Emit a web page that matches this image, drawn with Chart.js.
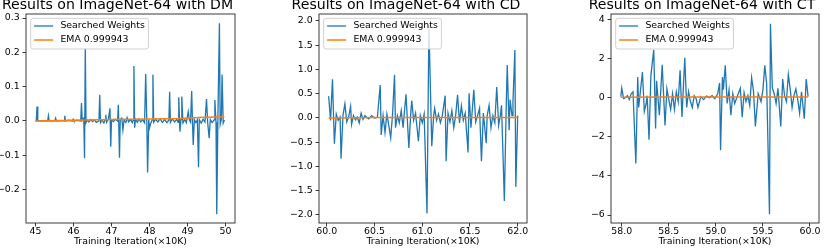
<!DOCTYPE html>
<html>
<head>
<meta charset="utf-8">
<script src="https://cdn.jsdelivr.net/npm/chart.js@4.4.1/dist/chart.umd.min.js"></script>
<style>
html, body { margin: 0; padding: 0; background: #fff; }
body { width: 830px; height: 248px; position: relative; overflow: hidden; }
canvas { position: absolute; top: -2px; }
</style>
</head>
<body>
<canvas id="dm" width="261" height="250" style="left:0px"></canvas>
<canvas id="cd" width="276" height="250" style="left:285px"></canvas>
<canvas id="ct" width="260" height="250" style="left:585px"></canvas>
<script>
// ---- data ----
const seriesLabels = ['Searched Weights', 'EMA 0.999943'];
const xAxisLabel = 'Training Iteration(\u00d710K)';

// DM panel
const dmIter = [45.00, 45.02, 45.04, 45.06, 45.10, 45.20, 45.32, 45.34, 45.36, 45.45, 45.51, 45.53, 45.55, 45.65, 45.75, 45.77, 45.79, 45.88, 45.97, 45.99,
  46.01, 46.10, 46.19, 46.21, 46.23, 46.27, 46.29, 46.31, 46.33, 46.36, 46.40, 46.45, 46.50, 46.55, 46.60, 46.67, 46.69, 46.71, 46.75, 46.80,
  46.83, 46.85, 46.87, 46.92, 46.96, 46.98, 47.00, 47.05, 47.10, 47.16, 47.18, 47.21, 47.23, 47.27, 47.30, 47.33, 47.38, 47.41, 47.45, 47.50,
  47.55, 47.57, 47.59, 47.61, 47.63, 47.68, 47.72, 47.77, 47.82, 47.87, 47.90, 47.93, 47.95, 47.98, 48.00, 48.03, 48.07, 48.09, 48.11, 48.16,
  48.22, 48.28, 48.34, 48.40, 48.46, 48.51, 48.53, 48.55, 48.60, 48.66, 48.72, 48.75, 48.77, 48.80, 48.83, 48.85, 48.88, 48.93, 48.97, 49.02,
  49.05, 49.08, 49.11, 49.13, 49.15, 49.18, 49.22, 49.26, 49.29, 49.31, 49.36, 49.41, 49.46, 49.50, 49.53, 49.57, 49.60, 49.65, 49.70, 49.72,
  49.75, 49.77, 49.80, 49.84, 49.86, 49.89, 49.91, 49.94, 49.97];
const dmWeights = [0.000, 0.000, 0.042, 0.000, 0.000, 0.001, 0.000, 0.015, 0.000, 0.001, 0.000, 0.008, 0.000, 0.001, 0.000, 0.015, 0.000, 0.002, 0.000, 0.005,
  0.000, 0.002, 0.000, 0.052, 0.002, 0.008, -0.109, 0.212, -0.004, 0.003, -0.003, 0.004, -0.002, 0.003, -0.004, 0.000, 0.076, -0.005, 0.003, -0.006,
  0.004, 0.018, -0.004, 0.006, 0.037, -0.075, 0.003, -0.002, 0.005, 0.000, 0.047, -0.107, 0.004, 0.008, -0.026, 0.002, -0.004, 0.010, -0.003, 0.004,
  -0.005, 0.002, 0.160, -0.020, 0.005, -0.004, 0.006, -0.003, 0.004, -0.005, 0.137, -0.006, -0.150, 0.004, -0.020, -0.008, 0.003, 0.135, -0.004, 0.005,
  -0.003, 0.006, -0.004, 0.004, -0.005, 0.003, 0.085, -0.004, 0.006, -0.003, 0.005, -0.004, 0.069, -0.031, 0.005, 0.071, -0.006, 0.004, -0.005, 0.027,
  0.003, -0.004, 0.087, 0.002, -0.070, 0.004, -0.005, 0.003, -0.135, 0.004, -0.006, 0.005, -0.003, 0.064, -0.004, -0.050, 0.004, -0.005, 0.003, 0.061,
  -0.004, -0.272, 0.005, 0.285, -0.010, 0.004, 0.135, -0.006, 0.003];
const dmEmaIter = [45.00, 46.00, 47.00, 48.00, 48.80, 49.30, 49.97];
const dmEma = [0.000, 0.002, 0.004, 0.006, 0.007, 0.010, 0.012];
const dmXTicks = [45, 46, 47, 48, 49, 50];
const dmYTicks = [-0.2, -0.1, 0.0, 0.1, 0.2, 0.3];

// CD panel
const cdIter = [60.02, 60.04, 60.06, 60.08, 60.10, 60.12, 60.14, 60.15, 60.17, 60.19, 60.21, 60.23, 60.25, 60.26, 60.28, 60.30, 60.32, 60.34, 60.36, 60.38,
  60.40, 60.42, 60.44, 60.47, 60.50, 60.53, 60.56, 60.57, 60.59, 60.61, 60.63, 60.65, 60.67, 60.69, 60.71, 60.72, 60.74, 60.76, 60.78, 60.80,
  60.81, 60.83, 60.86, 60.88, 60.89, 60.91, 60.93, 60.96, 60.98, 61.00, 61.02, 61.05, 61.07, 61.10, 61.12, 61.13, 61.15, 61.17, 61.19, 61.21,
  61.24, 61.25, 61.27, 61.29, 61.31, 61.33, 61.35, 61.37, 61.39, 61.41, 61.43, 61.45, 61.48, 61.49, 61.51, 61.54, 61.56, 61.58, 61.60, 61.62,
  61.64, 61.67, 61.68, 61.70, 61.72, 61.74, 61.76, 61.78, 61.80, 61.82, 61.83, 61.86, 61.88, 61.89, 61.91, 61.92, 61.94, 61.95, 61.97, 61.98, 62.00];
const cdWeights = [0.45, -0.05, 0.80, -0.53, 0.08, -0.05, 0.02, -0.84, 0.05, 0.29, -0.08, 0.03, 0.24, -0.13, 0.05, -0.04, 0.02, -0.10, 0.10, -0.03,
  0.05, 0.01, -0.02, 0.05, 0.00, 0.01, 0.68, -0.35, 0.05, -0.30, 0.08, -0.15, -0.41, 0.10, 0.89, -0.20, 0.05, -0.10, 0.15, -0.20,
  0.05, 0.49, -0.62, 0.10, 0.36, -0.05, 0.10, -0.48, 0.05, -0.10, 0.08, -1.97, 1.90, -0.58, 0.06, 0.20, -0.05, 0.08, -0.10, 0.05,
  0.46, -0.89, 0.10, -0.08, 0.15, -0.20, 0.05, 0.48, -0.10, 0.25, -0.05, 0.10, -0.71, 0.51, -0.20, 0.58, -0.08, 0.05, 0.20, -0.89,
  0.10, -0.52, 0.05, 0.26, -0.20, 0.05, -0.10, 0.64, -0.15, 0.08, 0.26, -1.71, 0.30, 1.09, -0.25, 0.38, 0.05, 0.33, 1.40, -1.42, 0.05];
const cdEmaIter = [60.02, 60.50, 61.00, 61.50, 62.00];
const cdEma = [0.00, 0.01, 0.01, 0.01, 0.01];
const cdXTicks = [60.0, 60.5, 61.0, 61.5, 62.0];
const cdYTicks = [-2.0, -1.5, -1.0, -0.5, 0.0, 0.5, 1.0, 1.5, 2.0];

// CT panel
const ctIter = [57.99, 58.00, 58.02, 58.04, 58.06, 58.08, 58.10, 58.12, 58.15, 58.17, 58.18, 58.20, 58.22, 58.24, 58.26, 58.27, 58.29, 58.31, 58.34, 58.36,
  58.37, 58.40, 58.43, 58.46, 58.48, 58.50, 58.52, 58.54, 58.56, 58.58, 58.60, 58.62, 58.64, 58.67, 58.69, 58.71, 58.73, 58.75, 58.77, 58.79,
  58.81, 58.84, 58.87, 58.90, 58.93, 58.96, 58.99, 59.02, 59.04, 59.05, 59.07, 59.08, 59.10, 59.12, 59.14, 59.16, 59.18, 59.20, 59.23, 59.26,
  59.28, 59.30, 59.32, 59.34, 59.36, 59.38, 59.40, 59.42, 59.45, 59.48, 59.50, 59.52, 59.54, 59.57, 59.58, 59.60, 59.62, 59.64, 59.66, 59.69,
  59.71, 59.73, 59.75, 59.77, 59.79, 59.81, 59.83, 59.85, 59.87, 59.89, 59.91, 59.94, 59.96, 59.98];
const ctWeights = [0.05, 0.49, -0.05, 0.00, 0.10, -0.10, 0.20, 0.30, -3.37, 1.05, -0.50, 0.40, 1.31, -0.70, -0.30, 0.10, -2.15, 1.14, 2.45, -1.58,
  0.86, -0.90, 1.68, -1.42, 0.45, -0.10, -0.60, 0.20, -0.60, 0.30, -0.20, 1.40, -0.99, 2.04, -0.50, 0.30, -0.20, -0.50, 0.10, -0.05,
  -0.50, 0.05, -0.10, 0.08, 0.00, 0.10, -0.05, 0.20, 0.75, -2.69, 1.05, 0.40, 1.65, -0.30, 0.40, -0.90, 0.20, -0.30, 0.10, 0.48,
  -1.00, 0.25, -0.20, 0.10, -0.40, 1.02, 0.35, -1.47, 0.20, -0.20, 0.40, 1.65, 0.70, -5.96, 3.78, 0.50, 0.20, -0.30, 0.48, -1.47,
  0.95, 0.10, -0.20, 1.18, 0.45, -0.50, 0.10, 0.45, -0.10, -0.80, 0.30, -1.08, 0.95, 0.05];
const ctEmaIter = [57.99, 58.50, 59.00, 59.50, 59.98];
const ctEma = [0.02, 0.03, 0.03, 0.03, 0.03];
const ctXTicks = [58.0, 58.5, 59.0, 59.5, 60.0];
const ctYTicks = [-6, -4, -2, 0, 2, 4];

// ---- drawing ----
Chart.defaults.font.family = '"DejaVu Sans"';
Chart.defaults.color = '#000';

const INK = '#262626';
const SMALL = 9.4;

function fmt(v, d) {
  return (v < 0 ? '\u2212' : '') + Math.abs(v).toFixed(d);
}

// full box round the axes, like matplotlib spines
const frame = {
  id: 'frame',
  afterDatasetsDraw(chart) {
    const { ctx, chartArea: a } = chart;
    ctx.save();
    ctx.strokeStyle = INK;
    ctx.lineWidth = 0.9;
    ctx.strokeRect(a.left, a.top, a.right - a.left, a.bottom - a.top);
    ctx.restore();
  },
};

// legend box in the upper-left corner of the axes
const boxLegend = {
  id: 'boxLegend',
  afterDraw(chart) {
    const { ctx, chartArea: a } = chart;
    const sets = chart.data.datasets;
    ctx.save();
    ctx.font = SMALL + 'px "DejaVu Sans"';
    const textW = Math.max(...sets.map(d => ctx.measureText(d.label).width));
    const x0 = a.left + 4.7;
    const y0 = a.top + 4.3;
    const w = 3.4 + 19 + 7.3 + textW + 3.6;
    ctx.beginPath();
    ctx.roundRect(x0, y0, w, 30.7, 2.5);
    ctx.fillStyle = 'rgba(255,255,255,0.8)';
    ctx.fill();
    ctx.strokeStyle = '#cccccc';
    ctx.lineWidth = 0.9;
    ctx.stroke();
    sets.forEach((d, i) => {
      const cy = y0 + 7.7 + i * 14;
      ctx.beginPath();
      ctx.moveTo(x0 + 3.4, cy);
      ctx.lineTo(x0 + 22.4, cy);
      ctx.strokeStyle = d.borderColor;
      ctx.lineWidth = d.borderWidth;
      ctx.stroke();
      ctx.fillStyle = '#000';
      ctx.textBaseline = 'middle';
      ctx.textAlign = 'left';
      ctx.fillText(d.label, x0 + 29.7, cy);
    });
    ctx.restore();
  },
};

function pairs(xs, ys) {
  return xs.map((x, i) => ({ x: x, y: ys[i] }));
}

function makePanel(id, p) {
  return new Chart(document.getElementById(id), {
    type: 'line',
    data: {
      datasets: [
        {
          label: seriesLabels[0],
          data: pairs(p.iter, p.weights),
          borderColor: '#1f77b4',
          borderWidth: 1.3,
          order: 1,
        },
        {
          label: seriesLabels[1],
          data: pairs(p.emaIter, p.ema),
          borderColor: '#ff7f0e',
          borderWidth: 1.5,
          order: 0,
        },
      ],
    },
    options: {
      responsive: false,
      animation: false,
      events: [],
      elements: { point: { radius: 0 }, line: { tension: 0 } },
      layout: { padding: { left: 0, right: p.padRight, top: 0, bottom: 0 } },
      plugins: {
        legend: { display: false },
        tooltip: { enabled: false },
        title: {
          display: true,
          text: p.title,
          color: '#000',
          font: { size: 14.1, weight: 'normal', lineHeight: 1 },
          padding: { top: 0.6, bottom: 1.3 },
        },
      },
      scales: {
        x: {
          type: 'linear',
          min: p.xMin,
          max: p.xMax,
          afterBuildTicks: (s) => { s.ticks = p.xTicks.map(v => ({ value: v })); },
          afterFit: (s) => { s.height = 25; },
          ticks: {
            callback: v => fmt(v, p.xDec),
            font: { size: SMALL },
            color: '#000',
            padding: -0.5,
            maxRotation: 0,
            autoSkip: false,
          },
          grid: { drawOnChartArea: false, drawTicks: true, tickLength: 3.5, tickColor: INK, tickWidth: 0.9 },
          border: { display: false },
          title: {
            display: true,
            text: xAxisLabel,
            color: '#000',
            font: { size: SMALL },
            padding: { top: 0, bottom: 1 },
          },
        },
        y: {
          type: 'linear',
          min: p.yMin,
          max: p.yMax,
          afterBuildTicks: (s) => { s.ticks = p.yTicks.map(v => ({ value: v })); },
          afterFit: (s) => { s.width = p.axisW; },
          ticks: {
            callback: v => fmt(v, p.yDec),
            font: { size: SMALL },
            color: '#000',
            padding: 2.8,
            autoSkip: false,
          },
          grid: { drawOnChartArea: false, drawTicks: true, tickLength: 3.5, tickColor: INK, tickWidth: 0.9 },
          border: { display: false },
        },
      },
    },
    plugins: [frame, boxLegend],
  });
}

makePanel('dm', {
  title: 'Results on ImageNet-64 with DM',
  iter: dmIter, weights: dmWeights, emaIter: dmEmaIter, ema: dmEma,
  xTicks: dmXTicks, yTicks: dmYTicks, xDec: 0, yDec: 1,
  xMin: 44.75, xMax: 50.25, yMin: -0.2974, yMax: 0.3117,
  axisW: 26, padRight: 26,
});

makePanel('cd', {
  title: 'Results on ImageNet-64 with CD',
  iter: cdIter, weights: cdWeights, emaIter: cdEmaIter, ema: cdEma,
  xTicks: cdXTicks, yTicks: cdYTicks, xDec: 1, yDec: 1,
  xMin: 59.919, xMax: 62.097, yMin: -2.165, yMax: 2.144,
  axisW: 34, padRight: 34,
});

makePanel('ct', {
  title: 'Results on ImageNet-64 with CT',
  iter: ctIter, weights: ctWeights, emaIter: ctEmaIter, ema: ctEma,
  xTicks: ctXTicks, yTicks: ctYTicks, xDec: 1, yDec: 0,
  xMin: 57.886, xMax: 60.096, yMin: -6.408, yMax: 4.276,
  axisW: 26, padRight: 26,
});
</script>
</body>
</html>
